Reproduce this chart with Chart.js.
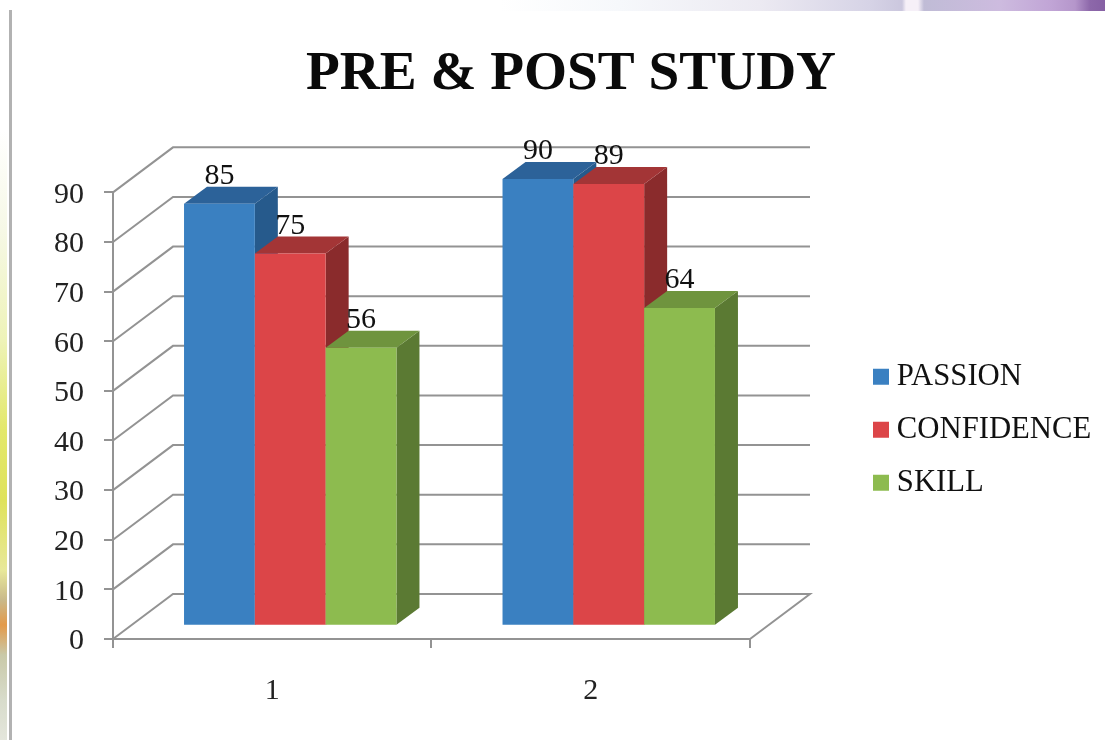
<!DOCTYPE html>
<html>
<head>
<meta charset="utf-8">
<script src="https://cdn.jsdelivr.net/npm/chart.js@4/dist/chart.umd.min.js"></script>
<style>
html,body{margin:0;padding:0;background:#fff;width:1105px;height:740px;overflow:hidden}
#wrap{position:relative;width:1105px;height:740px}
#strip{position:absolute;left:0;top:0;width:7px;height:740px;background:linear-gradient(to bottom,#fff 0,#fff 130px,#f6f8e6 230px,#eef3b8 340px,#e3e86a 430px,#dfe25a 500px,#e8e89a 570px,#c9b98a 600px,#e39a4a 625px,#c9c9a8 655px,#d8dccb 700px,#e4e6dc 740px)}
#bar{position:absolute;left:9px;top:10px;width:3px;height:730px;background:#b2b2b2}
#top{position:absolute;left:500px;top:0;width:605px;height:11px;background:linear-gradient(to right,#fff 0,#f6f8fb 120px,#eceaf2 260px,#d6d3e6 370px,#cbc7de 402px,#f6f0f8 406px,#f6f0f8 418px,#c0bcd6 424px,#cdbbdf 500px,#c1a5d6 550px,#b596cb 575px,#8d68aa 590px,#8660a4 605px)}
canvas{position:absolute;left:0;top:0;filter:blur(0.4px)}
</style>
</head>
<body>
<div id="wrap">
<div id="strip"></div><div id="bar"></div><div id="top"></div>
<canvas id="c" width="1105" height="740"></canvas>
</div>
<script>
const categories = ['1', '2'];
const passion = [85, 90];
const confidence = [75, 89];
const skill = [56, 64];
const seriesNames = ['PASSION', 'CONFIDENCE', 'SKILL'];
const frontColors = ['#3a80c1', '#dc4548', '#8dbb4f'];
const topColors = ['#2c6299', '#a33536', '#6f943e'];
const sideColors = ['#265a8c', '#8a2b2c', '#5b7a33'];
const gridColor = '#939393';
const serif = '"Liberation Serif", serif';

// depth of the walls and of the bars, and where the bars stand on the floor
const WALL = {dx: 60, dy: -45};
const BAR = {dx: 23, dy: -17};
const FLOOR = {dx: 18, dy: -13.3};

function poly(ctx, pts, fill) {
  ctx.beginPath();
  pts.forEach((p, i) => i ? ctx.lineTo(p[0], p[1]) : ctx.moveTo(p[0], p[1]));
  ctx.closePath();
  ctx.fillStyle = fill;
  ctx.fill();
}

const scene3d = {
  id: 'scene3d',
  afterLayout(chart) {
    chart.titleBlock.left = 37;
    chart.titleBlock.right = 1105;
    const w = chart.legend.width;
    chart.legend.left = 858.2;
    chart.legend.right = 858.2 + w;
    const h = chart.legend.height;
    chart.legend.top = 339;
    chart.legend.bottom = 339 + h;
    // the serif's visual middle sits a little high: nudge the y labels down
    const y = chart.scales.y;
    if (!y._nudged) {
      y._nudged = true;
      const base = y.drawLabels;
      y.drawLabels = function (area) {
        chart.ctx.save();
        chart.ctx.translate(0, 2.5);
        base.call(this, area);
        chart.ctx.restore();
      };
    }
  },
  beforeDatasetsDraw(chart) {
    const {ctx, scales: {x, y}} = chart;
    const l = x.left, r = x.right;
    ctx.save();
    // walls and floor
    ctx.strokeStyle = gridColor;
    ctx.lineWidth = 2;
    y.ticks.forEach(t => {
      const py = y.getPixelForValue(t.value);
      ctx.beginPath();
      ctx.moveTo(l, py);
      ctx.lineTo(l + WALL.dx, py + WALL.dy);
      ctx.lineTo(r + WALL.dx, py + WALL.dy);
      if (t.value === 0) ctx.lineTo(r, py);
      ctx.stroke();
    });
    // bars, left to right, so that each front covers the side of its neighbour
    chart.data.labels.forEach((_, i) => {
      chart.data.datasets.forEach((ds, d) => {
        const el = chart.getDatasetMeta(d).data[i];
        const hw = el.width / 2;
        const x0 = el.x - hw + FLOOR.dx, x1 = el.x + hw + FLOOR.dx;
        const yt = el.y + FLOOR.dy, yb = el.base + FLOOR.dy;
        poly(ctx, [[x1, yt], [x1 + BAR.dx, yt + BAR.dy], [x1 + BAR.dx, yb + BAR.dy], [x1, yb]], sideColors[d]);
        poly(ctx, [[x0, yt], [x0 + BAR.dx, yt + BAR.dy], [x1 + BAR.dx, yt + BAR.dy], [x1, yt]], topColors[d]);
        ctx.save();
        ctx.translate(FLOOR.dx, FLOOR.dy);
        el.draw(ctx, chart.chartArea);
        ctx.restore();
      });
    });
    // value labels, above everything
    ctx.fillStyle = '#111';
    ctx.font = '30px ' + serif;
    ctx.textAlign = 'center';
    ctx.textBaseline = 'middle';
    chart.data.datasets.forEach((ds, d) => {
      chart.getDatasetMeta(d).data.forEach((el, i) => {
        ctx.fillText(String(ds.data[i]), el.x + FLOOR.dx, el.y + FLOOR.dy - 27.5);
      });
    });
    ctx.restore();
    return false;
  }
};

new Chart(document.getElementById('c'), {
  type: 'bar',
  data: {
    labels: categories,
    datasets: [passion, confidence, skill].map((data, d) => ({
      label: seriesNames[d],
      data,
      backgroundColor: frontColors[d],
      borderWidth: 0,
      categoryPercentage: 0.667,
      barPercentage: 1
    }))
  },
  plugins: [scene3d],
  options: {
    responsive: false,
    animation: false,
    events: [],
    layout: {padding: {left: 0, right: 112, top: 0, bottom: 0}},
    plugins: {
      tooltip: {enabled: false},
      title: {
        display: true,
        text: 'PRE & POST STUDY',
        color: '#0a0a0a',
        font: {family: serif, size: 55.3, weight: 'bold'},
        padding: {top: 42, bottom: 84}
      },
      legend: {
        position: 'right',
        align: 'start',
        labels: {
          color: '#111',
          font: {family: serif, size: 30.7},
          usePointStyle: true,
          pointStyle: 'rect',
          boxWidth: 1,
          boxHeight: 16,
          padding: 22.3
        }
      }
    },
    scales: {
      x: {
        afterFit(s) { s.height = 101; },
        grid: {drawOnChartArea: false, drawTicks: true, tickLength: 9, color: gridColor, lineWidth: 2, offset: true},
        border: {color: gridColor, width: 2},
        ticks: {color: '#222', font: {family: serif, size: 30}, padding: 25, maxRotation: 0}
      },
      y: {
        min: 0,
        max: 90,
        afterFit(s) { s.width = 113; },
        grid: {drawOnChartArea: false, drawTicks: true, tickLength: 9, color: gridColor, lineWidth: 2},
        border: {color: gridColor, width: 2},
        ticks: {stepSize: 10, color: '#222', font: {family: serif, size: 30}, padding: 20}
      }
    }
  }
});
</script>
</body>
</html>
